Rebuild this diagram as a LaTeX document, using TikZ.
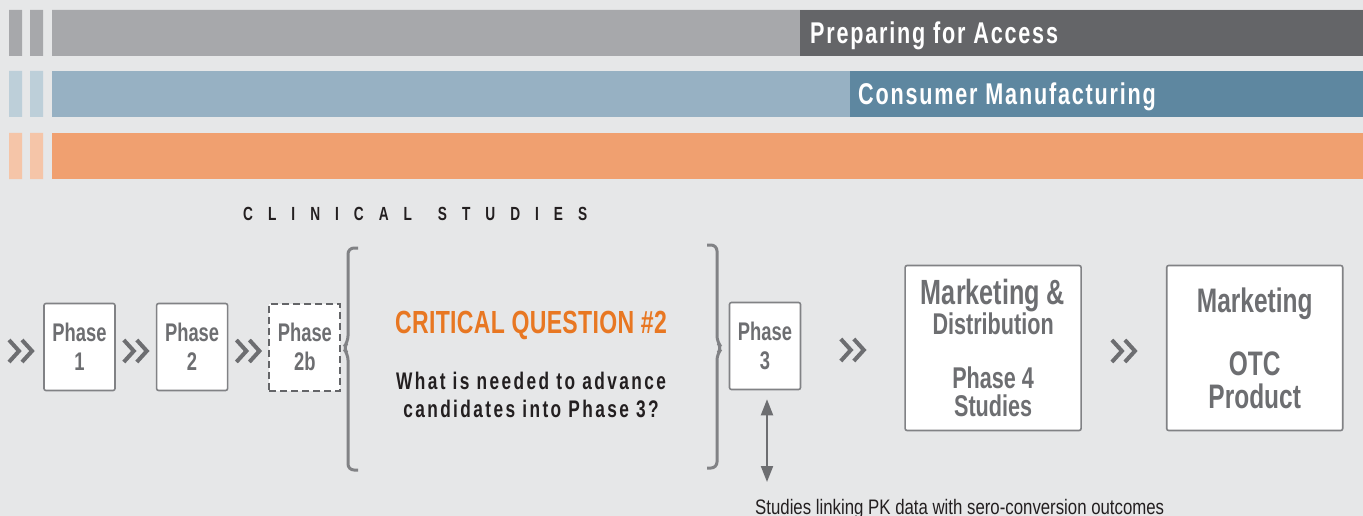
\documentclass[tikz,border=0pt]{standalone}
\usepackage{fontspec}
\setmainfont{Liberation Sans}[FakeStretch=0.72]
\usetikzlibrary{positioning,calc,arrows.meta}
\definecolor{bg}{HTML}{E6E7E8}
\definecolor{grayA}{HTML}{A7A8AB}
\definecolor{grayB}{HTML}{646568}
\definecolor{blueS}{HTML}{BDCFD9}
\definecolor{blueA}{HTML}{97B1C3}
\definecolor{blueB}{HTML}{5E87A0}
\definecolor{orS}{HTML}{F5C5A8}
\definecolor{orA}{HTML}{F0A070}
\definecolor{cqorange}{HTML}{E87722}
\definecolor{boxtext}{HTML}{6D6E71}
\definecolor{boxline}{HTML}{818285}
\definecolor{darktext}{HTML}{231F20}
\begin{document}
\begin{tikzpicture}[x=1pt, y=-1pt, line join=miter,
    >={Triangle[length=16pt,width=12pt]},
    bartext/.style={anchor=base west, text=white, inner sep=0pt,
      font=\bfseries\fontsize{30}{32}\selectfont\addfontfeature{LetterSpace=6}},
    phasebox/.style={draw=boxline, fill=white, line width=1.6pt, rounded corners=2pt,
      minimum width=71pt, minimum height=87pt, inner sep=0pt, align=center,
      text=boxtext, font=\bfseries\fontsize{25.5}{29}\selectfont},
    bigbox/.style={phasebox, minimum width=176pt, minimum height=165pt,
      font=\bfseries\fontsize{30}{28}\selectfont},
    chev/.style={draw=boxtext, line width=4pt},
    brace/.style={draw=boxline, line width=3pt, rounded corners=6pt}]
  \useasboundingbox (0,0) rectangle (1363,516);
  \fill[bg] (0,0) rectangle (1363,516);
  % bars
  \fill[grayA] (9,10) rectangle (22,56) (30,10) rectangle (43,56) (52,10) rectangle (1363,56);
  \fill[grayB] (800,10) rectangle (1363,56);
  \fill[blueS] (9,71) rectangle (22,117) (30,71) rectangle (43,117);
  \fill[blueA] (52,71) rectangle (1363,117);
  \fill[blueB] (850,71) rectangle (1363,117);
  \fill[orS] (9,133) rectangle (22,179) (30,133) rectangle (43,179);
  \fill[orA] (52,133) rectangle (1363,179);
  \node[bartext] (access) at (810,44) {Preparing for Access};
  \node[bartext] (manuf) at (858,105) {Consumer Manufacturing};
  \node[anchor=base west, inner sep=0pt, text=darktext,
    font=\bfseries\fontsize{19}{20}\selectfont\addfontfeature{LetterSpace=79}]
    (clin) at (243,220) {CLINICAL\hspace{7pt} STUDIES};
  % phases
  \node[phasebox] (p1) at (79.5,347) {Phase\\1};
  \node[phasebox, right=40pt of p1] (p2) {Phase\\2};
  \node[phasebox, right=40pt of p2, dash pattern=on 7pt off 4pt, draw=grayB,
    line width=2pt, rounded corners=0pt] (p2b) {Phase\\2b};
  \node[phasebox] (p3) at (765,346) {Phase\\3};
  \node[bigbox, right=103pt of p3, yshift=-2pt] (md)
    {{\fontsize{35}{32}\selectfont Marketing \&}\\Distribution\\[26pt]Phase 4\\Studies};
  \node[bigbox, right=84pt of md, font=\bfseries\fontsize{34}{33}\selectfont] (otc)
    {Marketing\\[30pt]OTC\\Product};
  % braces
  \draw[brace] (358,248) -- (348,248) -- (348,342) -- (343,348) -- (348,354) -- (348,470) -- (358,470);
  \draw[brace] (707,245) -- (717,245) -- (717,342) -- (722,348) -- (717,354) -- (717,468) -- (707,468);
  \node[text=cqorange, font=\bfseries\fontsize{32}{32}\selectfont\addfontfeature{LetterSpace=1}]
    (cq) at (531,325) {CRITICAL QUESTION \#2};
  \node[text=darktext, align=center, font=\bfseries\fontsize{24}{28}\selectfont\addfontfeature{LetterSpace=10}]
    (ask) at (531,395) {What is needed to advance\\candidates into Phase 3?};
  % chevrons
  \coordinate (c1) at (21,351);
  \coordinate (c2) at ($(p1.east)!.5!(p2.west)+(0,4)$);
  \coordinate (c3) at ($(p2.east)!.5!(p2b.west)+(0,4)$);
  \coordinate (c4) at ($(p3.east)!.5!(md.west)+(0,3)$);
  \coordinate (c5) at ($(md.east)!.5!(otc.west)+(0,3)$);
  \foreach \c in {c1,c2,c3,c4,c5}
    \draw[chev] ($(\c)+(-12,-11)$) -- ($(\c)+(-2,0)$) -- ($(\c)+(-12,11)$)
      ($(\c)+(1,-11)$) -- ($(\c)+(11,0)$) -- ($(\c)+(1,11)$);
  % PK link
  \coordinate (pk) at (767,482);
  \draw[<->, draw=boxtext, line width=2pt, shorten <=9pt] (p3.south -| pk) -- (pk);
  \node[anchor=base west, inner sep=0pt, text=darktext, font=\fontsize{21}{24}\selectfont\addfontfeature{FakeStretch=0.8}]
    (pktext) at (755,514) {Studies linking PK data with sero-conversion outcomes};
\end{tikzpicture}
\end{document}
